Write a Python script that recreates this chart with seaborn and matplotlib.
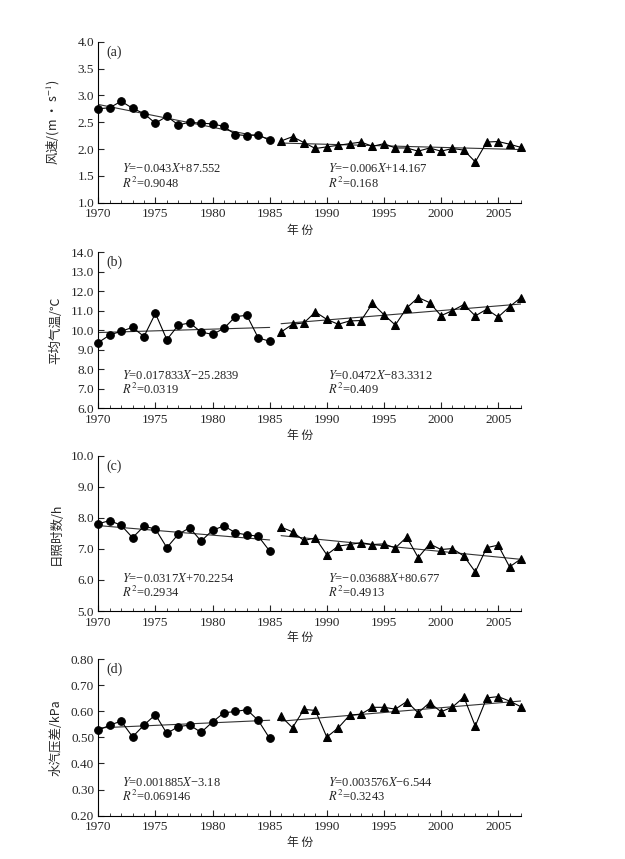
import numpy as np
import pandas as pd
import matplotlib
matplotlib.use("Agg")
import matplotlib.pyplot as plt
import seaborn as sns

# years, split into two periods
years1 = list(range(1970, 1986))
years2 = list(range(1986, 2008))

# (a) wind speed
wind1 = [2.75, 2.77, 2.89, 2.76, 2.66, 2.48, 2.61, 2.45, 2.50, 2.48, 2.47, 2.42, 2.27, 2.25, 2.27, 2.16]
wind2 = [2.15, 2.23, 2.12, 2.01, 2.04, 2.07, 2.10, 2.13, 2.05, 2.10, 2.02, 2.02, 1.96, 2.02, 1.96, 2.01,
         1.98, 1.76, 2.13, 2.14, 2.09, 2.03]
# (b) mean temperature
temp1 = [9.37, 9.76, 9.95, 10.15, 9.68, 10.87, 9.52, 10.26, 10.38, 9.91, 9.79, 10.10, 10.70, 10.77, 9.61, 9.44]
temp2 = [9.91, 10.31, 10.38, 10.94, 10.56, 10.31, 10.48, 10.50, 11.38, 10.80, 10.27, 11.15, 11.68, 11.42,
         10.75, 11.01, 11.32, 10.74, 11.08, 10.68, 11.21, 11.68]
# (c) sunshine hours
sun1 = [7.81, 7.91, 7.76, 7.36, 7.73, 7.64, 7.04, 7.47, 7.68, 7.25, 7.60, 7.74, 7.52, 7.45, 7.41, 6.93]
sun2 = [7.70, 7.55, 7.27, 7.35, 6.81, 7.09, 7.14, 7.20, 7.14, 7.16, 7.03, 7.38, 6.72, 7.16, 6.98, 7.01,
        6.77, 6.26, 7.04, 7.12, 6.42, 6.68]
# (d) vapour pressure deficit
vpd1 = [0.527, 0.547, 0.562, 0.502, 0.547, 0.587, 0.515, 0.541, 0.547, 0.519, 0.559, 0.594, 0.599, 0.606,
        0.565, 0.496]
vpd2 = [0.580, 0.537, 0.607, 0.603, 0.501, 0.536, 0.585, 0.589, 0.615, 0.615, 0.608, 0.637, 0.594, 0.633,
        0.598, 0.616, 0.654, 0.543, 0.651, 0.656, 0.639, 0.617]

labels = ["(a)", "(b)", "(c)", "(d)"]
ylabels = ["风速/(m · s$^{-1}$)", "平均气温/℃", "日照时数/h", "水汽压差/kPa"]
eq1 = [r"$Y$=−0.043$X$+87.552", r"$Y$=0.017833$X$−25.2839", r"$Y$=−0.0317$X$+70.2254",
       r"$Y$=0.001885$X$−3.18"]
r2_1 = [r"$R^2$=0.9048", r"$R^2$=0.0319", r"$R^2$=0.2934", r"$R^2$=0.069146"]
eq2 = [r"$Y$=−0.006$X$+14.167", r"$Y$=0.0472$X$−83.3312", r"$Y$=−0.03688$X$+80.677",
       r"$Y$=0.003576$X$−6.544"]
r2_2 = [r"$R^2$=0.168", r"$R^2$=0.409", r"$R^2$=0.4913", r"$R^2$=0.3243"]
yticks = [np.arange(1.0, 4.01, 0.5), np.arange(6.0, 14.01, 1.0), np.arange(5.0, 10.01, 1.0),
          np.arange(0.2, 0.801, 0.1)]
yfmt = ["{:.1f}", "{:.1f}", "{:.1f}", "{:.2f}"]
series = [(wind1, wind2), (temp1, temp2), (sun1, sun2), (vpd1, vpd2)]

sns.set_style("ticks")
plt.rcParams['font.family'] = ['Liberation Serif', 'Noto Sans CJK SC', 'DejaVu Sans']
plt.rcParams['mathtext.fontset'] = 'stix'

fig = plt.figure(figsize=(6.25, 8.59), dpi=100)
# axes boxes in pixels: (top, bottom)
boxes = [(41.7, 202.7), (252.3, 408.3), (455.7, 611.0), (659.0, 815.7)]
left_px, right_px = 98.3, 521.0
W, H = 625, 859

for i, (top, bot) in enumerate(boxes):
    ax = fig.add_axes([left_px / W, 1 - bot / H, (right_px - left_px) / W, (bot - top) / H])
    v1, v2 = series[i]
    df1 = pd.DataFrame({"year": years1, "val": v1})
    df2 = pd.DataFrame({"year": years2, "val": v2})

    sns.regplot(data=df1, x="year", y="val", scatter=False, ci=None, ax=ax, truncate=True,
                line_kws=dict(color="#333333", lw=0.8))
    sns.regplot(data=df2, x="year", y="val", scatter=False, ci=None, ax=ax, truncate=True,
                line_kws=dict(color="#333333", lw=0.8))
    sns.lineplot(data=df1, x="year", y="val", marker="o", markersize=5.5, color="black",
                 lw=0.8, markeredgecolor="black", ax=ax, clip_on=False)
    sns.lineplot(data=df2, x="year", y="val", marker="^", markersize=6, color="black",
                 lw=0.8, markeredgecolor="black", ax=ax, clip_on=False)

    ax.set_xlim(1970, 2007)
    ax.set_ylim(yticks[i][0], yticks[i][-1])
    ax.set_xticks(range(1970, 2008, 5))
    ax.set_xticks(range(1970, 2008), minor=True)
    ax.set_yticks(yticks[i])
    ax.set_yticklabels([yfmt[i].format(t) for t in yticks[i]])
    sns.despine(ax=ax)
    ax.tick_params(direction="in", length=4, width=0.8, labelsize=9.5)
    ax.tick_params(axis="x", pad=4)
    ax.tick_params(axis="y", pad=3)
    ax.tick_params(which="minor", direction="in", length=2, width=0.6)
    for s in ["left", "bottom"]:
        ax.spines[s].set_linewidth(0.8)
        ax.spines[s].set_color("black")

    ax.set_ylabel(ylabels[i], fontsize=9, family=['Noto Sans CJK SC', 'DejaVu Sans'])
    ax.yaxis.set_label_coords(-0.085, 0.5)
    ax.set_xlabel("年 份", fontsize=8.5, family=['Noto Sans CJK SC'])
    ax.xaxis.set_label_coords(0.477, -0.13)

    ax.text(0.018, 0.935, labels[i], transform=ax.transAxes, fontsize=10, va="center")
    ax.text(0.056, 0.212, eq1[i], transform=ax.transAxes, fontsize=9, va="center")
    ax.text(0.056, 0.12, r2_1[i], transform=ax.transAxes, fontsize=9, va="center")
    ax.text(0.543, 0.212, eq2[i], transform=ax.transAxes, fontsize=9, va="center")
    ax.text(0.543, 0.12, r2_2[i], transform=ax.transAxes, fontsize=9, va="center")

fig.savefig("out.png", dpi=100)
